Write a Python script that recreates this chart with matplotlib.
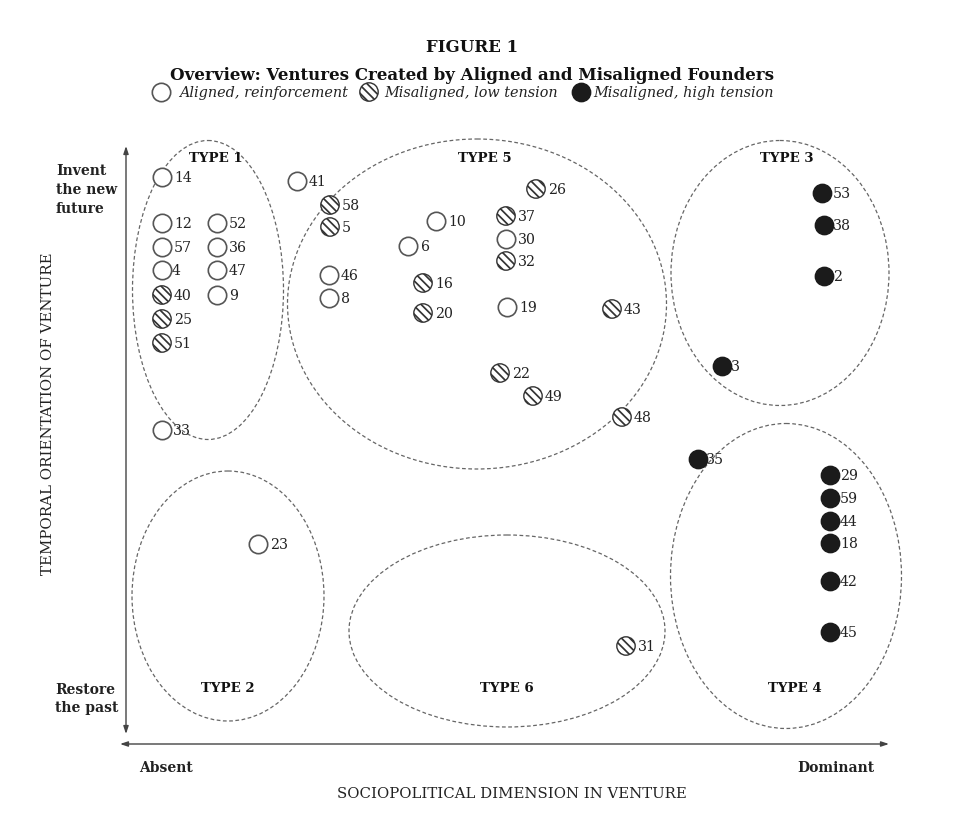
import matplotlib
matplotlib.use("Agg")
import matplotlib.pyplot as plt
from matplotlib.patches import Ellipse

plt.rcParams['font.family'] = ['DejaVu Serif']
plt.rcParams['hatch.color'] = '#333333'
plt.rcParams['hatch.linewidth'] = 1.25

# ---------------- data ----------------
venture_ids = [14, 12, 57, 4, 40, 25, 51, 33, 52, 36, 47, 9,
               41, 58, 5, 46, 8, 10, 6, 16, 20, 26, 37, 30, 32, 19, 43, 22, 49, 48,
               53, 38, 2, 3, 35, 29, 59, 44, 18, 42, 45,
               23, 31]
venture_x = [162, 162, 162, 162, 162, 162, 162, 162, 217, 217, 217, 217,
             297, 330, 330, 329, 329, 436, 408, 423, 423, 536, 506, 506, 506, 507, 612, 500, 533, 622,
             822, 824, 824, 722, 698, 830, 830, 830, 830, 830, 830,
             258, 626]
venture_y = [177, 223, 247, 270, 295, 319, 343, 430, 223, 247, 270, 295,
             181, 205, 227, 275, 298, 221, 246, 283, 313, 189, 216, 239, 261, 307, 309, 373, 396, 417,
             193, 225, 276, 366, 459, 475, 498, 521, 543, 581, 632,
             544, 646]
venture_group = ['A', 'A', 'A', 'A', 'L', 'L', 'L', 'A', 'A', 'A', 'A', 'A',
                 'A', 'L', 'L', 'A', 'A', 'A', 'A', 'L', 'L', 'L', 'L', 'A', 'L', 'A', 'L', 'L', 'L', 'L',
                 'H', 'H', 'H', 'H', 'H', 'H', 'H', 'H', 'H', 'H', 'H',
                 'A', 'L']

group_names = {'A': 'Aligned, reinforcement',
               'L': 'Misaligned, low tension',
               'H': 'Misaligned, high tension'}

type_names = ['TYPE 1', 'TYPE 5', 'TYPE 3', 'TYPE 2', 'TYPE 6', 'TYPE 4']
type_cx = [208, 477, 780, 228, 507, 786]
type_cy = [290, 304, 273, 596, 631, 576]
type_w = [151, 379, 218, 192, 316, 231]
type_h = [299, 330, 265, 250, 192, 305]
type_label_x = [216, 485, 787, 228, 507, 795]
type_label_y = [158, 158, 158, 688, 689, 689]

# ---------------- figure ----------------
fig = plt.figure(figsize=(9.62, 8.21), dpi=100)
ax = fig.add_axes([0, 0, 1, 1])
ax.set_xlim(0, 962)
ax.set_ylim(821, 0)
ax.axis('off')

# titles
ax.text(472, 47, 'FIGURE 1', ha='center', va='center', fontsize=12, fontweight='bold', color='#111')
ax.text(472, 75, 'Overview: Ventures Created by Aligned and Misaligned Founders',
        ha='center', va='center', fontsize=12, fontweight='bold', color='#111')

# cluster ellipses
for name, cx, cy, w, h, lx, ly in zip(type_names, type_cx, type_cy, type_w, type_h,
                                      type_label_x, type_label_y):
    e = Ellipse((cx, cy), w, h, fill=False, edgecolor='#666', lw=0.9,
                linestyle=(0, (3, 2)))
    ax.add_patch(e)
    ax.text(lx, ly, name, ha='center', va='center', fontsize=9.6, fontweight='bold', color='#111')

# axes arrows
arrow_kw = dict(arrowstyle='<|-|>,head_length=0.45,head_width=0.15', color='#444', lw=1.0,
                shrinkA=0, shrinkB=0)
ax.annotate('', xy=(126, 146), xytext=(126, 734), arrowprops=arrow_kw)
ax.annotate('', xy=(889, 744), xytext=(120, 744), arrowprops=arrow_kw)

# axis texts
ax.text(48, 414, 'TEMPORAL ORIENTATION OF VENTURE', rotation=90, ha='center', va='center',
        fontsize=10.8, color='#222')
ax.text(512, 794, 'SOCIOPOLITICAL DIMENSION IN VENTURE', ha='center', va='center',
        fontsize=10.7, color='#222')
ax.text(56, 190, 'Invent\nthe new\nfuture', ha='left', va='center', fontsize=10,
        fontweight='bold', color='#222', linespacing=1.45)
ax.text(55, 699, 'Restore\nthe past', ha='left', va='center', fontsize=10,
        fontweight='bold', color='#222', linespacing=1.45)
ax.text(166, 768, 'Absent', ha='center', va='center', fontsize=10, fontweight='bold', color='#222')
ax.text(836, 768, 'Dominant', ha='center', va='center', fontsize=10, fontweight='bold', color='#222')

# marker styles per group
styles = {
    'A': dict(facecolor='white', edgecolor='#555', linewidths=1.2),
    'L': dict(facecolor='white', edgecolor='#333333', linewidths=1.0, hatch='\\\\\\\\'),
    'H': dict(facecolor='#1b1b1b', edgecolor='#1b1b1b', linewidths=1.0),
}
marker_size = 175

for g in ['A', 'L', 'H']:
    xs = [x for x, gg in zip(venture_x, venture_group) if gg == g]
    ys = [y for y, gg in zip(venture_y, venture_group) if gg == g]
    ax.scatter(xs, ys, s=marker_size, marker='o', zorder=3, **styles[g])

# label offsets (layout only)
label_dx = {4: 10, 33: 11, 35: 8, 3: 9, 2: 9, 38: 9, 53: 11, 6: 13}
for vid, x, y, g in zip(venture_ids, venture_x, venture_y, venture_group):
    dx = label_dx.get(vid, 10 if g == 'H' else 12)
    ax.text(x + dx, y + 1, str(vid), ha='left', va='center', fontsize=10.2, color='#222', zorder=4)

# legend (custom row)
legend_x = [161, 369, 581]
legend_text_x = [179, 384, 593]
for g, mx, tx in zip(['A', 'L', 'H'], legend_x, legend_text_x):
    ax.scatter([mx], [92], s=marker_size, marker='o', zorder=3, **styles[g])
    ax.text(tx, 93, group_names[g], ha='left', va='center', fontsize=10.4, fontstyle='italic',
            color='#222')

fig.savefig('out.png', dpi=100)
